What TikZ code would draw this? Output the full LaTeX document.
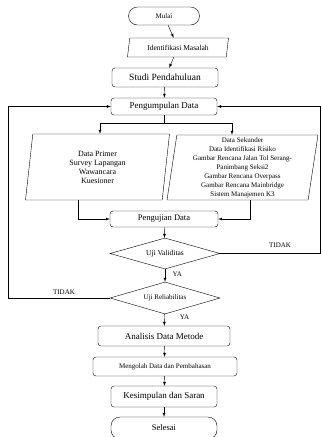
\documentclass[tikz,border=0pt]{standalone}
\usepackage{fontspec}
\setmainfont{Liberation Serif}
\usetikzlibrary{shapes.geometric}

\tikzset{
  kotak/.style={draw,rounded corners=3pt,inner sep=1pt},
  jajar/.style={draw,trapezium,trapezium left angle=78,trapezium right angle=102,
    trapezium stretches body,inner sep=1pt,align=center},
  belah/.style={draw,diamond,aspect=4,inner sep=0pt},
  ujung/.style={draw,rounded corners=9pt,inner sep=1pt},
  ket/.style={font=\fontsize{7}{8}\selectfont}
}

\begin{document}
\begin{tikzpicture}[x=1pt,y=-1pt,>=latex,thin]
  \useasboundingbox (0,0) rectangle (321,437);
  % Kotak
  \node[ujung,minimum width=71pt,minimum height=18pt,font=\fontsize{7}{8}\selectfont] (mulai) at (164,16) {Mulai};
  \node[jajar,trapezium left angle=73,trapezium right angle=107,minimum width=101pt,minimum height=19pt,font=\fontsize{7.5}{9}\selectfont] (identifikasi) at (178,47.5) {Identifikasi Masalah};
  \node[kotak,minimum width=106pt,minimum height=19pt,font=\fontsize{9.5}{11}\selectfont] (studi) at (165,77.5) {Studi Pendahuluan};
  \node[kotak,minimum width=106pt,minimum height=17pt,font=\fontsize{9}{11}\selectfont] (kumpul) at (164,106.5) {Pengumpulan Data};
  \node[jajar,minimum width=144pt,minimum height=66pt,font=\fontsize{8}{9}\selectfont] (primer) at (97.5,167) {Data Primer\\Survey Lapangan\\Wawancara\\Kuesioner};
  \node[jajar,trapezium left angle=81,trapezium right angle=99,minimum width=151pt,minimum height=65pt,font=\fontsize{7}{9}\selectfont] (sekunder) at (242.5,167.5) {Data Sekunder\\Data Identifikasi Risiko\\Gambar Rencana Jalan Tol Serang-\\Panimbang Seksi2\\Gambar Rencana Overpass\\Gambar Rencana Mainbridge\\Sistem Manajemen K3};
  \node[kotak,minimum width=108pt,minimum height=16pt,font=\fontsize{8.5}{10}\selectfont] (uji) at (164,219) {Pengujian Data};
  \node[belah,minimum width=110pt,minimum height=31pt,font=\fontsize{7.5}{9}\selectfont] (validitas) at (165,253.5) {Uji Validitas};
  \node[belah,minimum width=110pt,minimum height=32pt,font=\fontsize{7}{8}\selectfont] (reliabilitas) at (165,298) {Uji Reliabilitas};
  \node[kotak,minimum width=132pt,minimum height=20pt,font=\fontsize{9}{11}\selectfont] (analisis) at (164,336) {Analisis Data Metode};
  \node[kotak,minimum width=144pt,minimum height=19pt,font=\fontsize{7}{8}\selectfont] (olah) at (165,366.5) {Mengolah Data dan Pembahasan};
  \node[kotak,minimum width=106pt,minimum height=21pt,font=\fontsize{9}{11}\selectfont] (simpul) at (164,396.5) {Kesimpulan dan Saran};
  \node[ujung,minimum width=106pt,minimum height=22pt,font=\fontsize{8.5}{10}\selectfont] (selesai) at (164,428) {Selesai};
  % Titik bantu
  \coordinate (cabang) at (164,123);
  \coordinate (kiri) at (8,0);
  \coordinate (kanan) at (320,0);
  % Panah utama
  \draw[->] (mulai) -- (identifikasi);
  \draw[->] (identifikasi) -- (studi);
  \draw[->] (studi) -- (kumpul);
  \draw (kumpul) -- (cabang);
  \draw[->] (cabang) -| ([xshift=2.5pt]primer.north);
  \draw[->] (cabang) -| ([xshift=-10.5pt]sekunder.north);
  \draw[->] ([xshift=-19.5pt]primer.south) |- (uji.west);
  \draw[->] ([xshift=7.5pt]sekunder.south) |- (uji.east);
  \draw[->] (uji) -- (validitas);
  \draw[->] (validitas) -- node[ket,right,xshift=4pt,yshift=1pt] {YA} (reliabilitas);
  \draw[->] (reliabilitas) -- node[ket,right,xshift=12pt,yshift=3pt] {YA} (analisis);
  \draw[->] (analisis) -- (olah);
  \draw[->] (olah) -- (simpul);
  \draw[->] (simpul) -- (selesai);
  % Balik
  \draw[->] (validitas.east) -- node[ket,above,pos=0.6,yshift=2pt] {TIDAK} (validitas.east -| kanan) |- (kumpul.east);
  \draw[->] (reliabilitas.west) -- node[ket,above,pos=0.45] {TIDAK} (reliabilitas.west -| kiri) |- (kumpul.west);
\end{tikzpicture}
\end{document}
